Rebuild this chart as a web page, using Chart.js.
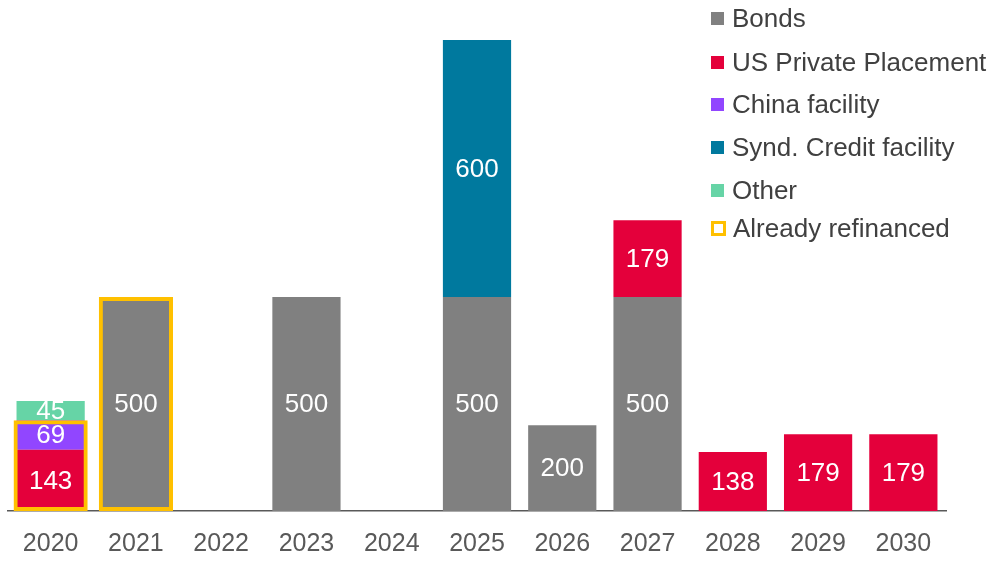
<!DOCTYPE html>
<html><head><meta charset="utf-8">
<script src="https://cdn.jsdelivr.net/npm/chart.js@4"></script>
<style>
html,body{margin:0;padding:0;background:#fff;}
#wrap{position:relative;width:996px;height:561px;}
#legend{position:absolute;left:711px;top:0;font-family:"Liberation Sans",Arial,sans-serif;font-size:26px;color:#404040;}
.li{position:absolute;left:0;white-space:nowrap;display:flex;align-items:center;height:30px;}
.sw{width:13px;height:13px;margin-right:8px;box-sizing:border-box;}
</style></head>
<body><div id="wrap"><canvas id="c" width="996" height="561"></canvas><div id="legend"></div></div>
<script>
const years = ["2020","2021","2022","2023","2024","2025","2026","2027","2028","2029","2030"];
const bonds = [0,500,0,500,0,500,200,500,0,0,0];
const usPrivatePlacement = [143,0,0,0,0,0,0,179,138,179,179];
const chinaFacility = [69,0,0,0,0,0,0,0,0,0,0];
const syndCreditFacility = [0,0,0,0,0,600,0,0,0,0,0];
const other = [45,0,0,0,0,0,0,0,0,0,0];
const alreadyRefinanced = [212,500,0,0,0,0,0,0,0,0,0];
const seriesNames = ["Bonds","US Private Placement","China facility","Synd. Credit facility","Other","Already refinanced"];
const colors = ["#808080","#E4003B","#9146FF","#00799E","#66D4A6","#FFC000"];

const mk = (i, data) => ({label: seriesNames[i], data: data, backgroundColor: colors[i], stack: 's',
  categoryPercentage: 0.8, barPercentage: 1.0, borderWidth: 0, order: 1});
const datasets = [
  mk(0, bonds), mk(1, usPrivatePlacement), mk(2, chinaFacility), mk(3, syndCreditFacility), mk(4, other),
  {label: seriesNames[5], data: alreadyRefinanced, backgroundColor: 'rgba(0,0,0,0)', borderColor: colors[5],
   borderWidth: 4, borderSkipped: false, stack: 'r', grouped: false, categoryPercentage: 0.87, barPercentage: 1.0, order: 0}
];

const labelPlugin = {
  id: 'vals',
  afterDatasetsDraw(chart) {
    const ctx = chart.ctx;
    ctx.save();
    ctx.font = '26px "Liberation Sans", Arial, sans-serif';
    ctx.fillStyle = '#fff';
    ctx.textAlign = 'center';
    ctx.textBaseline = 'middle';
    for (let d = 0; d < 5; d++) {
      const meta = chart.getDatasetMeta(d);
      meta.data.forEach((el, i) => {
        const v = chart.data.datasets[d].data[i];
        if (!v) return;
        const p = el.getProps(['x','y','base'], true);
        ctx.fillText(String(v), p.x, (p.y + p.base) / 2 + 1);
      });
    }
    ctx.restore();
  }
};

new Chart(document.getElementById('c'), {
  type: 'bar',
  data: {labels: years, datasets: datasets},
  options: {
    responsive: false, animation: false,
    layout: {padding: {left: 8, right: 50, top: 40, bottom: 0}},
    plugins: {legend: {display: false}, tooltip: {enabled: false}},
    scales: {
      x: {stacked: true, grid: {display: false, drawTicks: false},
          border: {display: true, color: '#595959', width: 1.5},
          ticks: {color: '#595959', padding: 18, font: {size: 25, family: '"Liberation Sans", Arial, sans-serif'}},
          afterFit: s => { s.height = 50; }},
      y: {stacked: true, display: false, min: 0, max: 1100}
    }
  },
  plugins: [labelPlugin]
});

const lg = document.getElementById('legend');
const tops = [3, 47, 89, 132, 175, 213];
seriesNames.forEach((n, i) => {
  const d = document.createElement('div');
  d.className = 'li';
  d.style.top = tops[i] + 'px';
  const sw = document.createElement('span');
  sw.className = 'sw';
  if (i === 5) { sw.style.border = '3px solid ' + colors[i]; sw.style.width='15px'; sw.style.height='15px'; sw.style.marginRight='7px'; }
  else sw.style.background = colors[i];
  d.appendChild(sw);
  const t = document.createElement('span');
  t.textContent = n;
  d.appendChild(t);
  lg.appendChild(d);
});
</script></body></html>
